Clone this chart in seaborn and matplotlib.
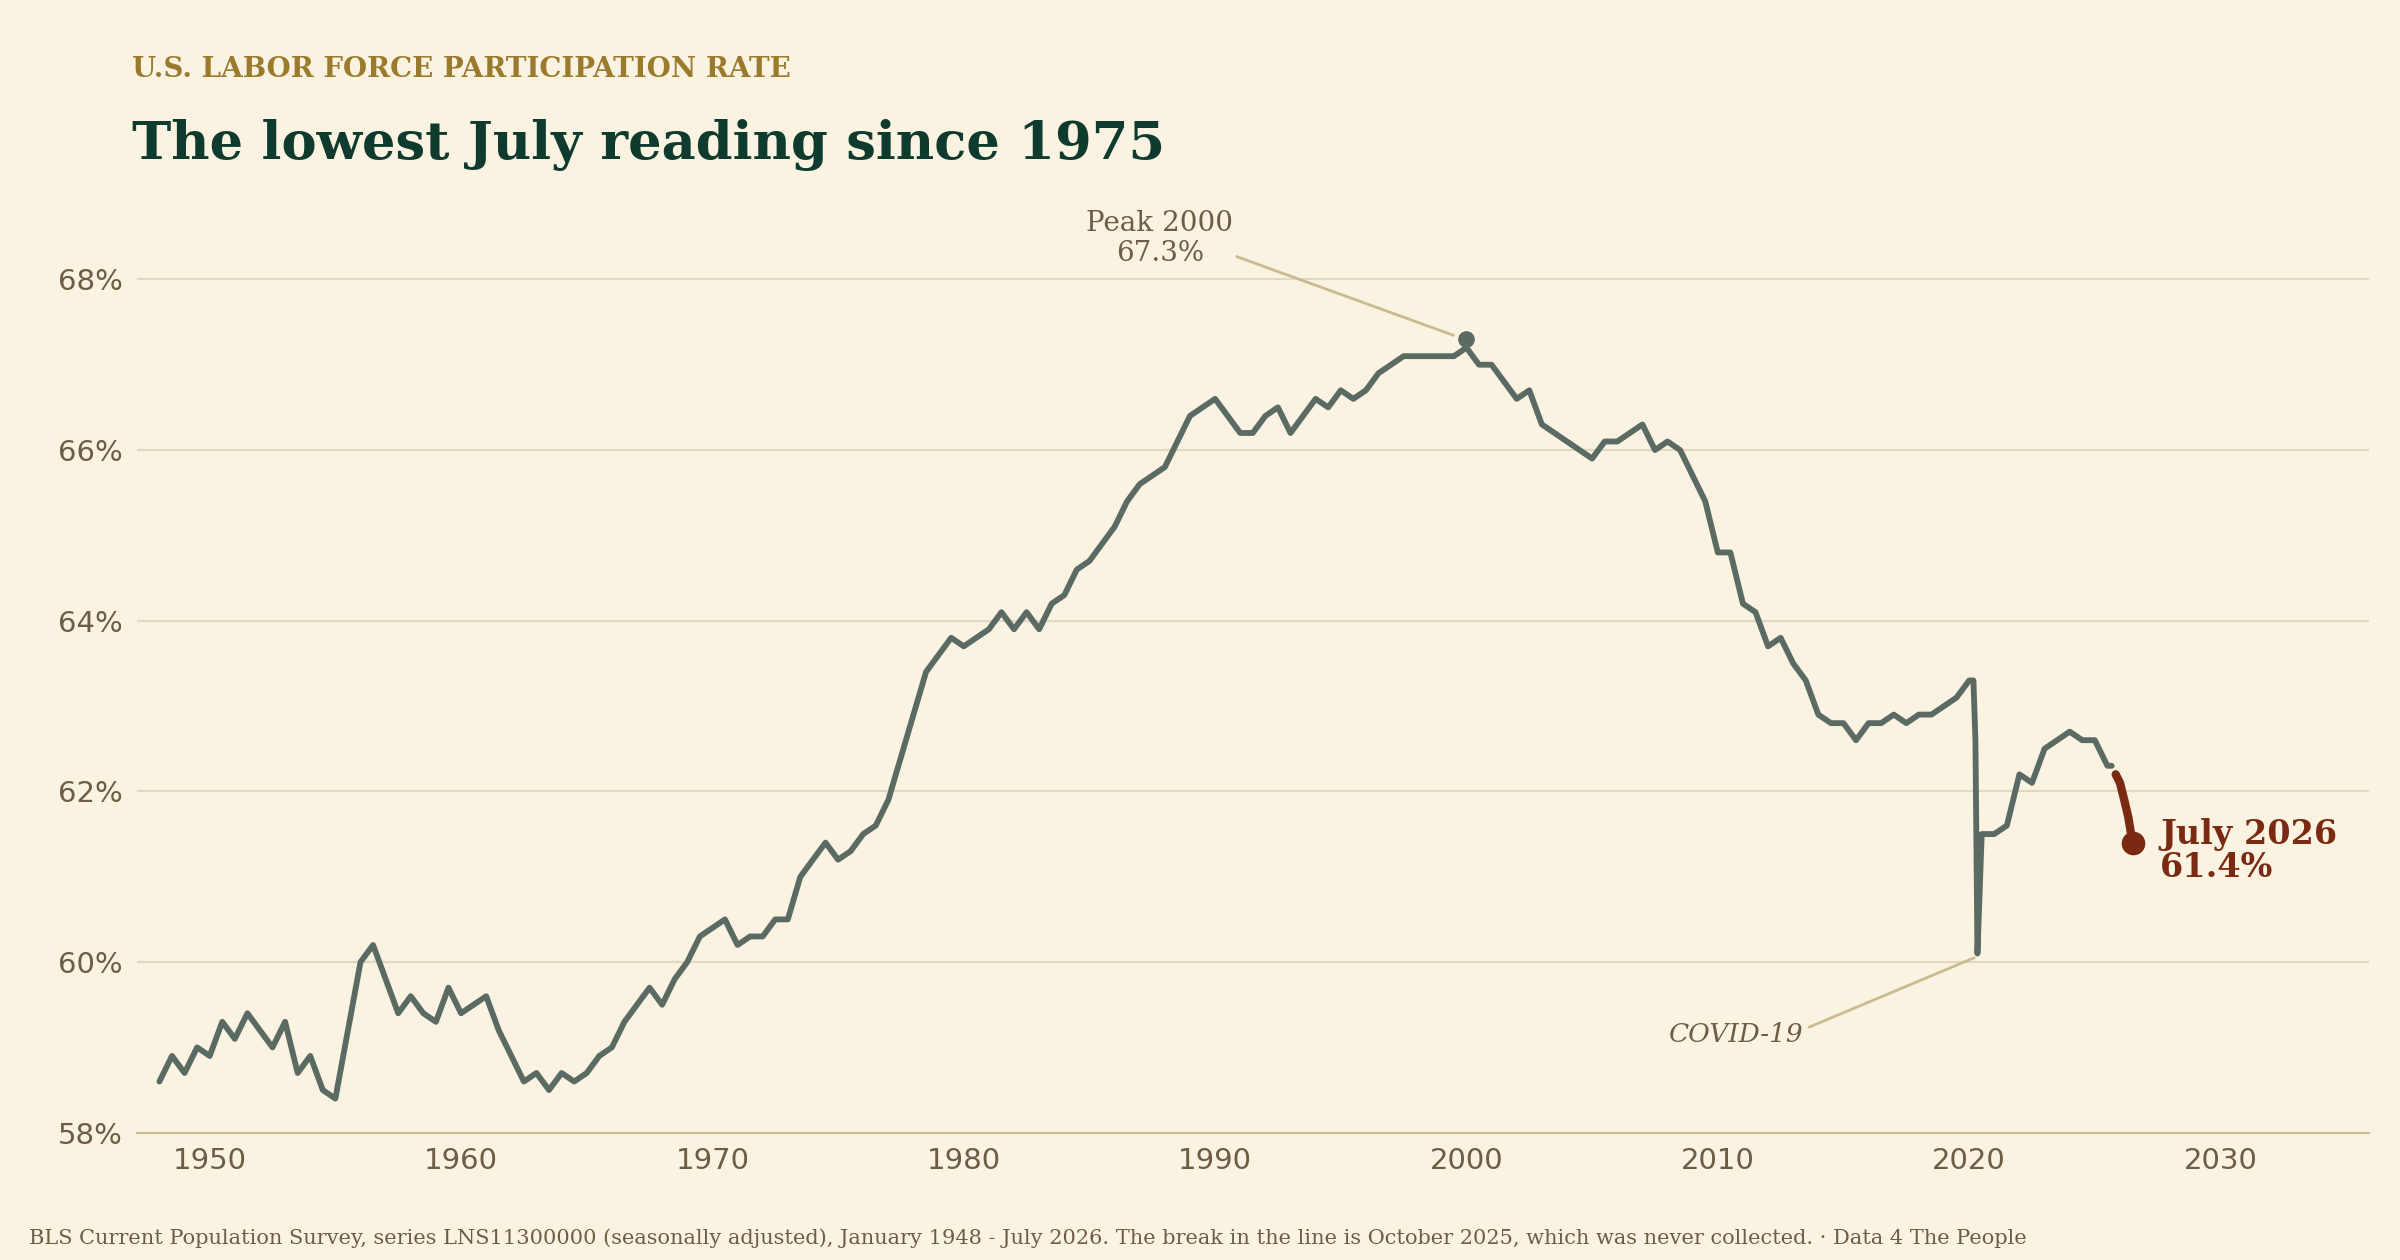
import matplotlib
matplotlib.use("Agg")
import matplotlib.pyplot as plt
import seaborn as sns
import pandas as pd
import numpy as np

years = [1948.0,1948.5,1949.0,1949.5,1950.0,1950.5,1951.0,1951.5,1952.0,1952.5,1953.0,1953.5,1954.0,1954.5,1955.0,1955.5,
         1956.0,1956.5,1957.0,1957.5,1958.0,1958.5,1959.0,1959.5,1960.0,1960.5,1961.0,1961.5,1962.0,1962.5,1963.0,1963.5,
         1964.0,1964.5,1965.0,1965.5,1966.0,1966.5,1967.0,1967.5,1968.0,1968.5,1969.0,1969.5,1970.0,1970.5,1971.0,1971.5,
         1972.0,1972.5,1973.0,1973.5,1974.0,1974.5,1975.0,1975.5,1976.0,1976.5,1977.0,1977.5,1978.0,1978.5,1979.0,1979.5,
         1980.0,1980.5,1981.0,1981.5,1982.0,1982.5,1983.0,1983.5,1984.0,1984.5,1985.0,1985.5,1986.0,1986.5,1987.0,1987.5,
         1988.0,1988.5,1989.0,1989.5,1990.0,1990.5,1991.0,1991.5,1992.0,1992.5,1993.0,1993.5,1994.0,1994.5,1995.0,1995.5,
         1996.0,1996.5,1997.0,1997.5,1998.0,1998.5,1999.0,1999.5,2000.0,2000.5,2001.0,2001.5,2002.0,2002.5,2003.0,2003.5,
         2004.0,2004.5,2005.0,2005.5,2006.0,2006.5,2007.0,2007.5,2008.0,2008.5,2009.0,2009.5,2010.0,2010.5,2011.0,2011.5,
         2012.0,2012.5,2013.0,2013.5,2014.0,2014.5,2015.0,2015.5,2016.0,2016.5,2017.0,2017.5,2018.0,2018.5,2019.0,2019.5,
         2020.0,2020.17,2020.25,2020.33,2020.5,2021.0,2021.5,2022.0,2022.5,2023.0,2023.5,2024.0,2024.5,2025.0,2025.5,2025.67]
rate = [58.6,58.9,58.7,59.0,58.9,59.3,59.1,59.4,59.2,59.0,59.3,58.7,58.9,58.5,58.4,59.2,
        60.0,60.2,59.8,59.4,59.6,59.4,59.3,59.7,59.4,59.5,59.6,59.2,58.9,58.6,58.7,58.5,
        58.7,58.6,58.7,58.9,59.0,59.3,59.5,59.7,59.5,59.8,60.0,60.3,60.4,60.5,60.2,60.3,
        60.3,60.5,60.5,61.0,61.2,61.4,61.2,61.3,61.5,61.6,61.9,62.4,62.9,63.4,63.6,63.8,
        63.7,63.8,63.9,64.1,63.9,64.1,63.9,64.2,64.3,64.6,64.7,64.9,65.1,65.4,65.6,65.7,
        65.8,66.1,66.4,66.5,66.6,66.4,66.2,66.2,66.4,66.5,66.2,66.4,66.6,66.5,66.7,66.6,
        66.7,66.9,67.0,67.1,67.1,67.1,67.1,67.1,67.2,67.0,67.0,66.8,66.6,66.7,66.3,66.2,
        66.1,66.0,65.9,66.1,66.1,66.2,66.3,66.0,66.1,66.0,65.7,65.4,64.8,64.8,64.2,64.1,
        63.7,63.8,63.5,63.3,62.9,62.8,62.8,62.6,62.8,62.8,62.9,62.8,62.9,62.9,63.0,63.1,
        63.3,63.3,62.6,60.1,61.5,61.5,61.6,62.2,62.1,62.5,62.6,62.7,62.6,62.6,62.3,62.3]
tail_years = [2025.83,2026.0,2026.17,2026.33,2026.5]
tail_rate = [62.2,62.1,61.9,61.7,61.4]

BG = "#fbf3e1"
LINE = "#5b6b63"
RED = "#7a2a12"
sns.set_theme(style="white")
plt.rcParams['font.family'] = ['DejaVu Sans']

fig = plt.figure(figsize=(24, 12.6), dpi=100, facecolor=BG)
ax = fig.add_axes([0.057, 0.101, 0.93, 0.745], facecolor=BG)

df = pd.DataFrame({"year": years, "rate": rate})
sns.lineplot(data=df, x="year", y="rate", ax=ax, color=LINE, lw=4.2)
dfr = pd.DataFrame({"year": tail_years, "rate": tail_rate})
sns.lineplot(data=dfr, x="year", y="rate", ax=ax, color=RED, lw=6)
ax.plot(tail_years[-1], tail_rate[-1], "o", color=RED, ms=16)
ax.plot(2000.0, 67.3, "o", color=LINE, ms=11)

ax.set_xlim(1947.1, 2035.9)
ax.set_ylim(58, 69.0)
ax.set_yticks([58, 60, 62, 64, 66, 68])
ax.set_yticklabels([f"{v}%" for v in [58, 60, 62, 64, 66, 68]])
ax.set_xticks(range(1950, 2031, 10))
ax.set_xlabel(""); ax.set_ylabel("")
ax.grid(axis="y", color="#e2d8c2", lw=1.5)
for s in ["top", "right", "left"]:
    ax.spines[s].set_visible(False)
ax.spines["bottom"].set_color("#cbbb92")
ax.spines["bottom"].set_linewidth(1.5)
ax.tick_params(axis="both", labelsize=21, colors="#6b5e45", length=0, pad=10)

serif = "DejaVu Serif"
ax.annotate("Peak 2000\n67.3%", xy=(1999.9, 67.3), xytext=(1987.8, 68.15), ha="center", va="bottom",
            fontsize=20, family=serif, color="#6b5e45", linespacing=1.1,
            arrowprops=dict(arrowstyle="-", color="#cbbb92", lw=2, shrinkA=0, shrinkB=8,
                            relpos=(1.0, 0.2)))
ax.annotate("COVID-19", xy=(2020.2, 60.05), xytext=(2013.4, 59.15), ha="right", va="center",
            fontsize=19, family=serif, style="italic", color="#6b5e45",
            arrowprops=dict(arrowstyle="-", color="#cbbb92", lw=2, shrinkA=2, shrinkB=0, relpos=(1.0, 0.7)))
ax.text(2027.6, 61.3, "July 2026\n61.4%", fontsize=24, family=serif, fontweight="bold",
        color=RED, va="center", ha="left", linespacing=1.0)

fig.text(0.055, 0.945, "U.S. LABOR FORCE PARTICIPATION RATE", fontsize=20, family=serif,
         fontweight="bold", color="#9a7b2e", va="center")
fig.text(0.055, 0.885, "The lowest July reading since 1975", fontsize=38, family=serif,
         fontweight="bold", color="#0e3b2e", va="center")
fig.text(0.012, 0.017, "BLS Current Population Survey, series LNS11300000 (seasonally adjusted), January 1948 - July 2026. "
         "The break in the line is October 2025, which was never collected. · Data 4 The People",
         fontsize=15, family=serif, color="#6b5e45", va="center")

fig.savefig("out.png", dpi=100, facecolor=BG)
